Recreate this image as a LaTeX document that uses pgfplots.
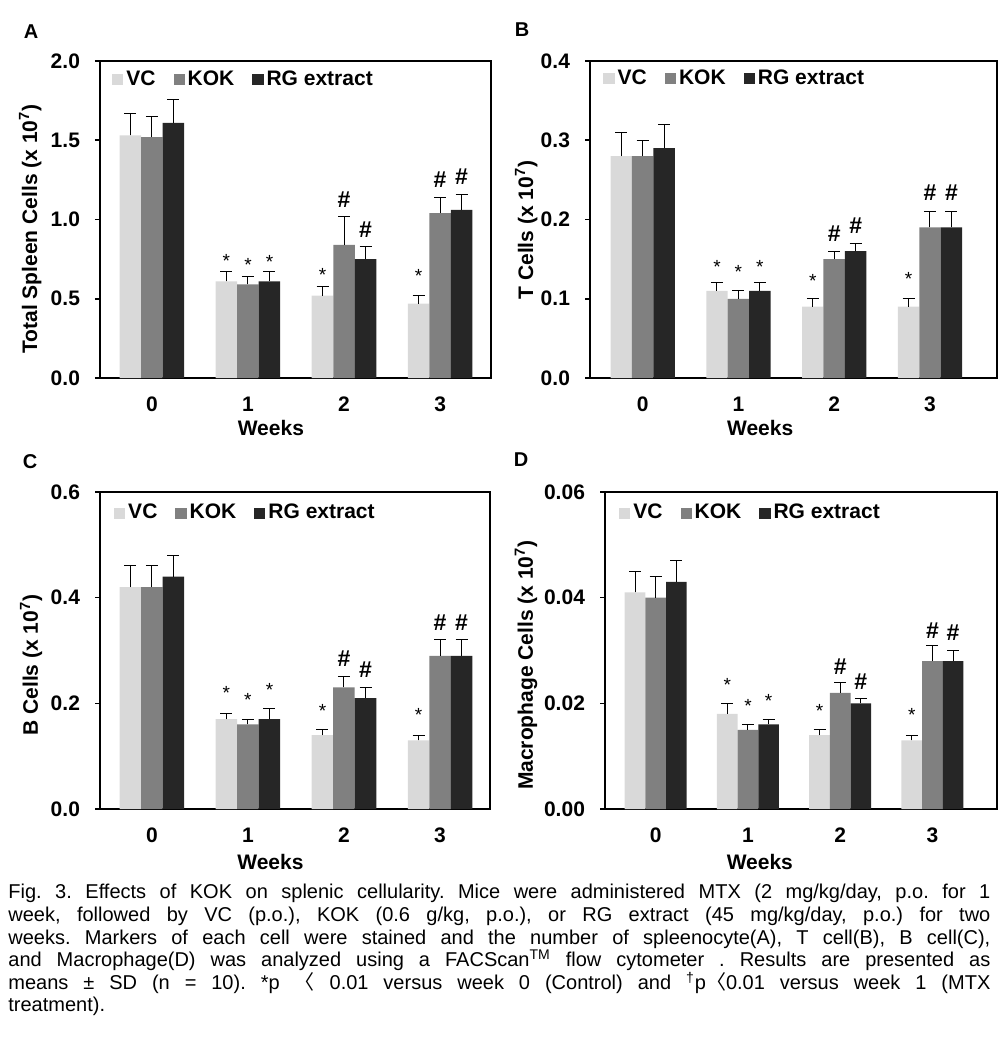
\documentclass[border=0pt]{standalone}
\usepackage{fontspec}
\setmainfont{Liberation Sans}
\newfontfamily\cjk{Noto Sans CJK KR}
\usepackage{pgfplots}
\usepackage{pgfplotstable}
\pgfplotsset{compat=1.18}
\definecolor{cvc}{HTML}{D9D9D9}
\definecolor{ckok}{HTML}{808080}
\definecolor{crg}{HTML}{262626}

\pgfplotstableread{
w vc vce kok koke rg rge
0 1.53 0.14 1.52 0.13 1.61 0.15
1 0.61 0.06 0.59 0.05 0.61 0.06
2 0.52 0.055 0.84 0.18 0.75 0.08
3 0.47 0.05 1.04 0.10 1.06 0.10
}\dataA
\pgfplotstableread{
w vc vce kok koke rg rge
0 0.28 0.03 0.28 0.02 0.29 0.03
1 0.11 0.01 0.10 0.01 0.11 0.01
2 0.09 0.01 0.15 0.01 0.16 0.01
3 0.09 0.01 0.19 0.02 0.19 0.02
}\dataB
\pgfplotstableread{
w vc vce kok koke rg rge
0 0.42 0.04 0.42 0.04 0.44 0.04
1 0.17 0.01 0.16 0.01 0.17 0.02
2 0.14 0.01 0.23 0.02 0.21 0.02
3 0.13 0.01 0.29 0.03 0.29 0.03
}\dataC
\pgfplotstableread{
w vc vce kok koke rg rge
0 0.041 0.004 0.040 0.004 0.043 0.004
1 0.018 0.002 0.015 0.001 0.016 0.001
2 0.014 0.001 0.022 0.002 0.020 0.001
3 0.013 0.001 0.028 0.003 0.028 0.002
}\dataD

\tikzset{
  star/.style={font=\fontsize{9.5}{9.5}\selectfont, inner sep=0pt, yshift=-1.9pt},
  hsh/.style={font=\fontsize{11.5}{11.5}\selectfont\bfseries, inner sep=0pt},
  plet/.style={font=\fontsize{10}{10}\selectfont\bfseries, inner sep=0pt},
}

\pgfplotsset{
  bars/.style={fill=#1, draw=none, bar shift=0pt,
    legend image code/.code={\fill[fill=#1] (0pt,-2.8pt) rectangle (5.6pt,2.8pt);}},
  panel/.style={
    scale only axis, height=158.5pt,
    ybar, bar width=0.224,
    ymin=0, enlargelimits=false,
    scaled ticks=false,
    axis line style={line width=1pt},
    tick align=outside, major tick length=2.5pt,
    xtick={0,1,2,3}, xtick style={draw=none},
    ytick pos=left, ytick style={line width=0.8pt, black},
    /pgf/number format/assume math mode=true,
    tick label style={font=\fontsize{10.5}{12}\selectfont\bfseries},
    yticklabel style={xshift=-4pt},
    xticklabel style={yshift=-3.5pt},
    label style={font=\fontsize{10.5}{12}\selectfont\bfseries},
    xlabel={Weeks},
    legend columns=3,
    legend style={draw=none, fill=none, inner sep=0pt,
      font=\fontsize{10.5}{12}\selectfont\bfseries,
      /tikz/every even column/.append style={column sep=7.5pt},
      nodes={inner xsep=1.5pt}, anchor=north west},
    error bars/y dir=plus, error bars/y explicit,
    error bars/error bar style={line width=0.5pt, black},
    error bars/error mark options={rotate=90, mark size=3pt, line width=0.5pt, black},
  },
}

\begin{document}
\begin{tikzpicture}
\path[use as bounding box] (0,0) rectangle (500pt,-524pt);

\node[plet] at (15.5pt,-16pt) {A};
\node[plet] at (261pt,-15pt) {B};
\node[plet] at (15pt,-231pt) {C};
\node[plet] at (260.5pt,-230pt) {D};

% Panel A
\begin{axis}[panel, at={(50pt,-189pt)}, anchor=south west, width=195.5pt,
  xmin=-0.54, xmax=3.53, ymax=2, ytick={0,0.5,1,1.5,2},
  yticklabel style={/pgf/number format/.cd, fixed, fixed zerofill, precision=1},
  ylabel={Total Spleen Cells (x 10\textsuperscript{7})},
  ylabel style={at={(axis description cs:-0.161,0.47)}, anchor=base},
  xlabel style={at={(axis description cs:0.437,0)}, anchor=base, yshift=-28.5pt},
  legend style={at={(0.03,0.984)}}]
\addplot[bars=cvc] table[x expr=\thisrow{w}-0.224, y=vc, y error=vce] {\dataA};
\addplot[bars=ckok] table[x=w, y=kok, y error=koke] {\dataA};
\addplot[bars=crg] table[x expr=\thisrow{w}+0.224, y=rg, y error=rge] {\dataA};
\legend{VC, KOK, RG extract}
\node[star] at (axis cs:0.776,0.765) {*};
\node[star] at (axis cs:1,0.734) {*};
\node[star] at (axis cs:1.224,0.755) {*};
\node[star] at (axis cs:1.776,0.671) {*};
\node[hsh] at (axis cs:2,1.127) {\#};
\node[hsh] at (axis cs:2.224,0.934) {\#};
\node[star] at (axis cs:2.776,0.665) {*};
\node[hsh] at (axis cs:3,1.249) {\#};
\node[hsh] at (axis cs:3.224,1.27) {\#};
\end{axis}

% Panel B
\begin{axis}[panel, at={(295pt,-189pt)}, anchor=south west, width=203.5pt,
  xmin=-0.55, xmax=3.70, ymax=0.4, ytick={0,0.1,0.2,0.3,0.4},
  yticklabel style={/pgf/number format/.cd, fixed, fixed zerofill, precision=1},
  ylabel={T Cells (x 10\textsuperscript{7})},
  ylabel style={at={(axis description cs:-0.140,0.467)}, anchor=base},
  xlabel style={at={(axis description cs:0.418,0)}, anchor=base, yshift=-28.5pt},
  legend style={at={(0.032,0.986)}}]
\addplot[bars=cvc] table[x expr=\thisrow{w}-0.224, y=vc, y error=vce] {\dataB};
\addplot[bars=ckok] table[x=w, y=kok, y error=koke] {\dataB};
\addplot[bars=crg] table[x expr=\thisrow{w}+0.224, y=rg, y error=rge] {\dataB};
\legend{VC, KOK, RG extract}
\node[star] at (axis cs:0.776,0.1444) {*};
\node[star] at (axis cs:1,0.139) {*};
\node[star] at (axis cs:1.224,0.1444) {*};
\node[star] at (axis cs:1.776,0.1267) {*};
\node[hsh] at (axis cs:2,0.1823) {\#};
\node[hsh] at (axis cs:2.224,0.1916) {\#};
\node[star] at (axis cs:2.776,0.1297) {*};
\node[hsh] at (axis cs:3,0.2337) {\#};
\node[hsh] at (axis cs:3.224,0.2337) {\#};
\end{axis}

% Panel C
\begin{axis}[panel, at={(50pt,-404.5pt)}, anchor=south west, width=195pt,
  xmin=-0.54, xmax=3.52, ymax=0.6, ytick={0,0.2,0.4,0.6},
  yticklabel style={/pgf/number format/.cd, fixed, fixed zerofill, precision=1},
  ylabel={B Cells (x 10\textsuperscript{7})},
  ylabel style={at={(axis description cs:-0.159,0.454)}, anchor=base},
  xlabel style={at={(axis description cs:0.437,0)}, anchor=base, yshift=-30pt},
  legend style={at={(0.035,0.975)}}]
\addplot[bars=cvc] table[x expr=\thisrow{w}-0.224, y=vc, y error=vce] {\dataC};
\addplot[bars=ckok] table[x=w, y=kok, y error=koke] {\dataC};
\addplot[bars=crg] table[x expr=\thisrow{w}+0.224, y=rg, y error=rge] {\dataC};
\legend{VC, KOK, RG extract}
\node[star] at (axis cs:0.776,0.2259) {*};
\node[star] at (axis cs:1,0.2145) {*};
\node[star] at (axis cs:1.224,0.2334) {*};
\node[star] at (axis cs:1.776,0.193) {*};
\node[hsh] at (axis cs:2,0.2839) {\#};
\node[hsh] at (axis cs:2.224,0.2637) {\#};
\node[star] at (axis cs:2.776,0.1849) {*};
\node[hsh] at (axis cs:3,0.3533) {\#};
\node[hsh] at (axis cs:3.224,0.3533) {\#};
\end{axis}

% Panel D
\begin{axis}[panel, at={(302.5pt,-404.5pt)}, anchor=south west, width=196pt,
  xmin=-0.55, xmax=3.70, ymax=0.06, ytick={0,0.02,0.04,0.06},
  yticklabel style={/pgf/number format/.cd, fixed, fixed zerofill, precision=2},
  ylabel={Macrophage Cells (x 10\textsuperscript{7})},
  ylabel style={at={(axis description cs:-0.184,0.454)}, anchor=base},
  xlabel style={at={(axis description cs:0.395,0)}, anchor=base, yshift=-30pt},
  legend style={at={(0.035,0.975)}}]
\addplot[bars=cvc] table[x expr=\thisrow{w}-0.224, y=vc, y error=vce] {\dataD};
\addplot[bars=ckok] table[x=w, y=kok, y error=koke] {\dataD};
\addplot[bars=crg] table[x expr=\thisrow{w}+0.224, y=rg, y error=rge] {\dataD};
\legend{VC, KOK, RG extract}
\node[star] at (axis cs:0.776,0.02416) {*};
\node[star] at (axis cs:1,0.02019) {*};
\node[star] at (axis cs:1.224,0.0212) {*};
\node[star] at (axis cs:1.776,0.01924) {*};
\node[hsh] at (axis cs:2,0.027) {\#};
\node[hsh] at (axis cs:2.224,0.02404) {\#};
\node[star] at (axis cs:2.776,0.01849) {*};
\node[hsh] at (axis cs:3,0.03382) {\#};
\node[hsh] at (axis cs:3.224,0.03331) {\#};
\end{axis}

\node[anchor=north west, inner sep=0pt, text width=491pt, align=justify,
  font=\fontsize{10}{11.3}\selectfont\frenchspacing] at (4pt,-442pt) {Fig. 3. Effects of KOK on splenic cellularity. Mice were administered MTX (2 mg/kg/day, p.o. for 1\linebreak
week, followed by VC (p.o.), KOK (0.6 g/kg, p.o.), or RG extract (45 mg/kg/day, p.o.) for two\linebreak
weeks. Markers of each cell were stained and the number of spleenocyte(A), T cell(B), B cell(C),\linebreak
and Macrophage(D) was analyzed using a FACScan\textsuperscript{TM} flow cytometer . Results are presented as\linebreak
means ± SD (n = 10). *p {\cjk 〈} 0.01 versus week 0 (Control) and \textsuperscript{†}p{\cjk 〈}0.01 versus week 1 (MTX\linebreak
treatment).};
\end{tikzpicture}
\end{document}
